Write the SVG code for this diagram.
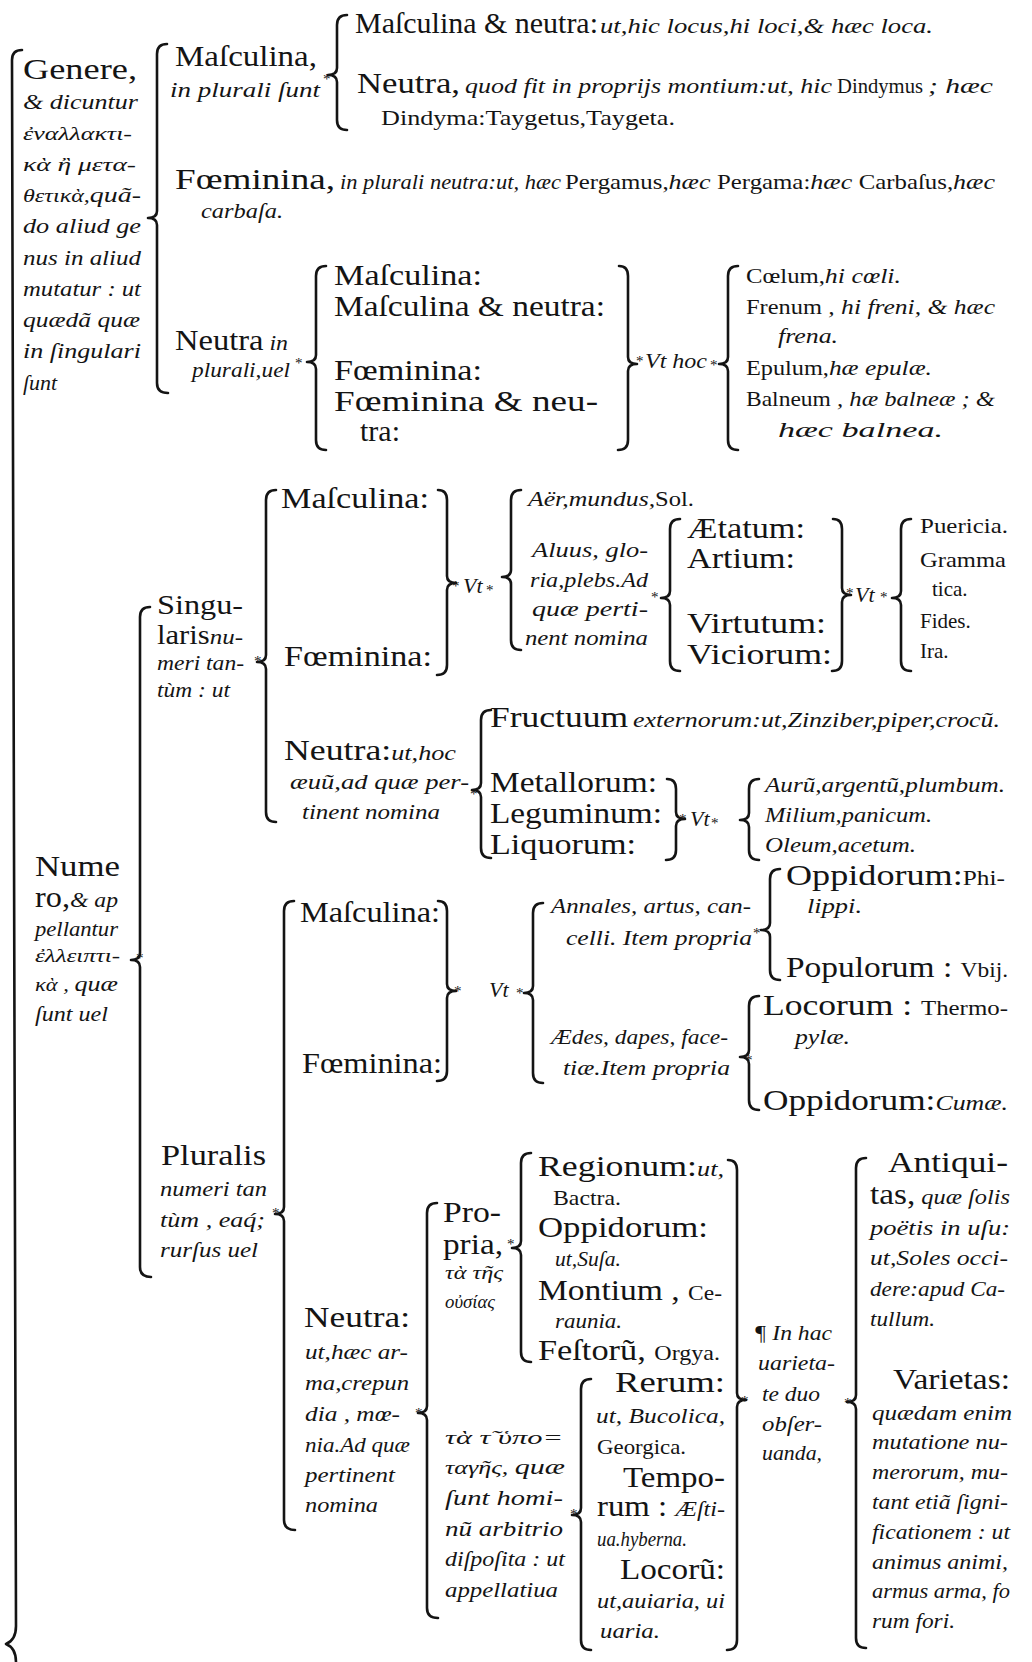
<svg xmlns="http://www.w3.org/2000/svg" width="1032" height="1662" viewBox="0 0 1032 1662">
<style>
text{font-family:"Liberation Serif","DejaVu Serif",serif;fill:#141414}
.r{font-size:30px}
.r27{font-size:27px}
.i{font-size:22px;font-style:italic}
.rs{font-size:21px;font-style:normal}
.g{font-size:19px;font-style:italic}
.st{font-size:15px}
.b{fill:none;stroke:#141414;stroke-width:2.6;stroke-linecap:round;stroke-linejoin:round}
</style>
<rect width="1032" height="1662" fill="#ffffff"/>
<g id="connectors" class="b">
<path d="M22,50 Q12,50 12,60 L16,1626 Q16,1640 6,1644 Q16,1648 16,1662"/>
<path d="M167,44 Q157,44 157,54 L157,211 Q157,218 148,218 Q157,218 157,225 L157,383 Q157,393 168,393"/>
<path d="M347,15 Q337,15 337,25 L337,68 Q337,75 328,75 Q337,75 337,82 L337,120 Q337,130 347,130"/>
<path d="M326,266 Q316,266 316,276 L316,355 Q316,362 307,362 Q316,362 316,369 L316,440 Q316,450 326,450"/>
<path d="M619,266 Q628,266 628,276 L628,357 Q628,364 637,364 Q628,364 628,371 L628,440 Q628,450 618,450"/>
<path d="M738,266 Q728,266 728,276 L728,357 Q728,364 719,364 Q728,364 728,371 L728,440 Q728,450 738,450"/>
<path d="M150,607 Q140,607 140,617 L140,953 Q140,960 131,960 Q140,960 140,967 L140,1267 Q140,1277 151,1277"/>
<path d="M276,490 Q266,490 266,500 L266,655 Q266,662 257,662 Q266,662 266,669 L266,812 Q266,822 276,822"/>
<path d="M438,490 Q447,490 447,500 L447,576 Q447,583 456,583 Q447,583 447,590 L447,665 Q447,675 437,675"/>
<path d="M521,490 Q511,490 511,500 L511,570 Q511,577 502,577 Q511,577 511,584 L511,640 Q511,650 521,650"/>
<path d="M680,519 Q670,519 670,529 L670,591 Q670,598 661,598 Q670,598 670,605 L670,661 Q670,671 680,671"/>
<path d="M833,519 Q842,519 842,529 L842,588 Q842,595 851,595 Q842,595 842,602 L842,661 Q842,671 832,671"/>
<path d="M911,519 Q901,519 901,529 L901,591 Q901,598 892,598 Q901,598 901,605 L901,661 Q901,671 911,671"/>
<path d="M491,710 Q481,710 481,720 L481,783 Q481,790 472,790 Q481,790 481,797 L481,848 Q481,858 491,858"/>
<path d="M667,779 Q676,779 676,789 L676,812 Q676,819 685,819 Q676,819 676,826 L676,850 Q676,860 666,860"/>
<path d="M759,779 Q749,779 749,789 L749,813 Q749,820 740,820 Q749,820 749,827 L749,850 Q749,860 759,860"/>
<path d="M294,901 Q284,901 284,911 L284,1207 Q284,1214 275,1214 Q284,1214 284,1221 L284,1520 Q284,1530 295,1530"/>
<path d="M438,901 Q447,901 447,911 L447,984 Q447,991 456,991 Q447,991 447,998 L447,1071 Q447,1081 437,1081"/>
<path d="M543,903 Q533,903 533,913 L533,986 Q533,993 524,993 Q533,993 533,1000 L533,1073 Q533,1083 543,1083"/>
<path d="M780,869 Q770,869 770,879 L770,923 Q770,930 761,930 Q770,930 770,937 L770,970 Q770,980 780,980"/>
<path d="M759,996 Q749,996 749,1006 L749,1050 Q749,1057 740,1057 Q749,1057 749,1064 L749,1100 Q749,1110 759,1110"/>
<path d="M437,1203 Q427,1203 427,1213 L427,1406 Q427,1413 418,1413 Q427,1413 427,1420 L427,1608 Q427,1618 438,1618"/>
<path d="M531,1153 Q521,1153 521,1163 L521,1241 Q521,1248 512,1248 Q521,1248 521,1255 L521,1352 Q521,1362 531,1362"/>
<path d="M591,1379 Q581,1379 581,1389 L581,1508 Q581,1515 572,1515 Q581,1515 581,1522 L581,1640 Q581,1650 591,1650"/>
<path d="M728,1160 Q737,1160 737,1170 L737,1393 Q737,1400 746,1400 Q737,1400 737,1407 L737,1640 Q737,1650 727,1650"/>
<path d="M866,1158 Q856,1158 856,1168 L856,1395 Q856,1402 847,1402 Q856,1402 856,1409 L856,1638 Q856,1648 866,1648"/>
</g>
<g id="stars" class="st">
<text class="st" x="323" y="84">*</text>
<text class="st" x="295" y="368">*</text>
<text class="st" x="636" y="366">*</text>
<text class="st" x="710" y="370">*</text>
<text class="st" x="136" y="963">*</text>
<text class="st" x="254" y="666">*</text>
<text class="st" x="452" y="591">*</text>
<text class="st" x="486" y="595">*</text>
<text class="st" x="651" y="602">*</text>
<text class="st" x="846" y="598">*</text>
<text class="st" x="880" y="602">*</text>
<text class="st" x="470" y="799">*</text>
<text class="st" x="679" y="824">*</text>
<text class="st" x="711" y="828">*</text>
<text class="st" x="454" y="996">*</text>
<text class="st" x="516" y="998">*</text>
<text class="st" x="753" y="938">*</text>
<text class="st" x="745" y="1065">*</text>
<text class="st" x="272" y="1218">*</text>
<text class="st" x="415" y="1418">*</text>
<text class="st" x="507" y="1249">*</text>
<text class="st" x="741" y="1406">*</text>
<text class="st" x="844" y="1408">*</text>
<text class="st" x="570" y="1519">*</text>
</g>
<g id="genere">
<text class="r" x="23" y="79" textLength="114" lengthAdjust="spacingAndGlyphs">Genere,</text>
<text class="i" x="23" y="109" textLength="115" lengthAdjust="spacingAndGlyphs">&amp; dicuntur</text>
<text class="g" x="23" y="140" textLength="109" lengthAdjust="spacingAndGlyphs">ἐναλλακτι-</text>
<text class="g" x="23" y="171" textLength="113" lengthAdjust="spacingAndGlyphs">κὰ ἢ μετα-</text>
<text class="g" x="23" y="202" textLength="118" lengthAdjust="spacingAndGlyphs">θετικὰ,<tspan class="i">quã-</tspan></text>
<text class="i" x="23" y="233" textLength="118" lengthAdjust="spacingAndGlyphs">do aliud ge</text>
<text class="i" x="23" y="265" textLength="118" lengthAdjust="spacingAndGlyphs">nus in aliud</text>
<text class="i" x="23" y="296" textLength="118" lengthAdjust="spacingAndGlyphs">mutatur : ut</text>
<text class="i" x="23" y="327" textLength="117" lengthAdjust="spacingAndGlyphs">quædã  quæ</text>
<text class="i" x="23" y="358" textLength="118" lengthAdjust="spacingAndGlyphs">in ſingulari</text>
<text class="i" x="23" y="390">ſunt</text>
</g>
<g id="masculina-plural">
<text class="r" x="175" y="66" textLength="142" lengthAdjust="spacingAndGlyphs">Maſculina,</text>
<text class="i" x="170" y="97" textLength="150" lengthAdjust="spacingAndGlyphs">in plurali  ſunt</text>
<text class="r" x="355" y="33" textLength="243" lengthAdjust="spacingAndGlyphs">Maſculina &amp; neutra:</text>
<text class="i" x="600" y="33" textLength="333" lengthAdjust="spacingAndGlyphs">ut,hic locus,hi loci,&amp; hæc loca.</text>
<text class="r" x="357" y="93" textLength="103" lengthAdjust="spacingAndGlyphs">Neutra,</text>
<text class="i" x="465" y="93" textLength="367" lengthAdjust="spacingAndGlyphs">quod fit in proprijs montium:ut, hic</text>
<text class="rs" x="837" y="93" textLength="86" lengthAdjust="spacingAndGlyphs">Dindymus</text>
<text class="i" x="928" y="93" textLength="65" lengthAdjust="spacingAndGlyphs">; hæc</text>
<text class="rs" x="381" y="125" textLength="294" lengthAdjust="spacingAndGlyphs">Dindyma:Taygetus,Taygeta.</text>
</g>
<g id="foeminina-plural">
<text class="r" x="175" y="189" textLength="160" lengthAdjust="spacingAndGlyphs">Fœminina,</text>
<text class="i" x="340" y="189" textLength="221" lengthAdjust="spacingAndGlyphs">in plurali neutra:ut, hæc</text>
<text class="rs" x="565" y="189" textLength="430" lengthAdjust="spacingAndGlyphs">Pergamus,<tspan class="i">hæc </tspan>Pergama:<tspan class="i">hæc </tspan>Carbaſus,<tspan class="i">hæc</tspan></text>
<text class="i" x="201" y="218" textLength="82" lengthAdjust="spacingAndGlyphs">carbaſa.</text>
</g>
<g id="neutra-plural">
<text class="r" x="175" y="350" textLength="113" lengthAdjust="spacingAndGlyphs">Neutra<tspan class="i"> in</tspan></text>
<text class="i" x="192" y="377" textLength="98" lengthAdjust="spacingAndGlyphs">plurali,uel</text>
<text class="r" x="334" y="285" textLength="148" lengthAdjust="spacingAndGlyphs">Maſculina:</text>
<text class="r" x="334" y="316" textLength="271" lengthAdjust="spacingAndGlyphs">Maſculina &amp; neutra:</text>
<text class="r" x="334" y="380" textLength="148" lengthAdjust="spacingAndGlyphs">Fœminina:</text>
<text class="r" x="334" y="411" textLength="264" lengthAdjust="spacingAndGlyphs">Fœminina  &amp;  neu-</text>
<text class="r" x="360" y="441">tra:</text>
<text class="i" x="645" y="368" textLength="62" lengthAdjust="spacingAndGlyphs">Vt hoc</text>
<text class="rs" x="746" y="283" textLength="155" lengthAdjust="spacingAndGlyphs">Cœlum,<tspan class="i">hi cœli.</tspan></text>
<text class="rs" x="746" y="314" textLength="249" lengthAdjust="spacingAndGlyphs">Frenum<tspan class="i"> , hi freni, &amp; hæc</tspan></text>
<text class="i" x="778" y="343" textLength="60" lengthAdjust="spacingAndGlyphs">frena.</text>
<text class="rs" x="746" y="375" textLength="186" lengthAdjust="spacingAndGlyphs">Epulum,<tspan class="i">hæ epulæ.</tspan></text>
<text class="rs" x="746" y="406" textLength="249" lengthAdjust="spacingAndGlyphs">Balneum<tspan class="i"> , hæ balneæ ; &amp;</tspan></text>
<text class="i" x="778" y="437" textLength="165" lengthAdjust="spacingAndGlyphs">hæc balnea.</text>
</g>
<g id="numero">
<text class="r" x="35" y="876" textLength="85" lengthAdjust="spacingAndGlyphs">Nume</text>
<text class="r" x="35" y="907" textLength="83" lengthAdjust="spacingAndGlyphs">ro,<tspan class="i">&amp; ap</tspan></text>
<text class="i" x="35" y="936" textLength="83" lengthAdjust="spacingAndGlyphs">pellantur</text>
<text class="g" x="35" y="962" textLength="85" lengthAdjust="spacingAndGlyphs">ἐλλειπτι-</text>
<text class="g" x="35" y="991" textLength="83" lengthAdjust="spacingAndGlyphs">κὰ , <tspan class="i">quæ</tspan></text>
<text class="i" x="35" y="1021" textLength="73" lengthAdjust="spacingAndGlyphs">ſunt uel</text>
</g>
<g id="singularis">
<text class="r27" x="157" y="614" textLength="86" lengthAdjust="spacingAndGlyphs">Singu-</text>
<text class="r27" x="157" y="644" textLength="86" lengthAdjust="spacingAndGlyphs">laris<tspan class="i">nu-</tspan></text>
<text class="i" x="157" y="670" textLength="87" lengthAdjust="spacingAndGlyphs">meri tan-</text>
<text class="i" x="157" y="697" textLength="73" lengthAdjust="spacingAndGlyphs">tùm : ut</text>
</g>
<g id="singularis-masc-foem">
<text class="r" x="281" y="508" textLength="148" lengthAdjust="spacingAndGlyphs">Maſculina:</text>
<text class="r" x="284" y="666" textLength="148" lengthAdjust="spacingAndGlyphs">Fœminina:</text>
<text class="i" x="463" y="593">Vt</text>
<text class="i" x="528" y="506" textLength="166" lengthAdjust="spacingAndGlyphs">Aër,mundus,<tspan class="rs">Sol.</tspan></text>
<text class="i" x="532" y="557" textLength="116" lengthAdjust="spacingAndGlyphs">Aluus, glo-</text>
<text class="i" x="530" y="587" textLength="118" lengthAdjust="spacingAndGlyphs">ria,plebs.Ad</text>
<text class="i" x="532" y="616" textLength="116" lengthAdjust="spacingAndGlyphs">quæ  perti-</text>
<text class="i" x="525" y="645" textLength="123" lengthAdjust="spacingAndGlyphs">nent nomina</text>
<text class="r" x="687" y="538" textLength="118" lengthAdjust="spacingAndGlyphs">Ætatum:</text>
<text class="r" x="687" y="568" textLength="108" lengthAdjust="spacingAndGlyphs">Artium:</text>
<text class="r" x="687" y="633" textLength="139" lengthAdjust="spacingAndGlyphs">Virtutum:</text>
<text class="r" x="687" y="664" textLength="145" lengthAdjust="spacingAndGlyphs">Viciorum:</text>
<text class="i" x="855" y="602">Vt</text>
<text class="rs" x="920" y="533" textLength="88" lengthAdjust="spacingAndGlyphs">Puericia.</text>
<text class="rs" x="920" y="567" textLength="86" lengthAdjust="spacingAndGlyphs">Gramma</text>
<text class="rs" x="932" y="596">tica.</text>
<text class="rs" x="920" y="628">Fides.</text>
<text class="rs" x="920" y="658">Ira.</text>
</g>
<g id="singularis-neutra">
<text class="r" x="284" y="760" textLength="172" lengthAdjust="spacingAndGlyphs">Neutra:<tspan class="i">ut,hoc</tspan></text>
<text class="i" x="290" y="789" textLength="179" lengthAdjust="spacingAndGlyphs">æuũ,ad quæ per-</text>
<text class="i" x="302" y="819" textLength="138" lengthAdjust="spacingAndGlyphs">tinent nomina</text>
<text class="r" x="490" y="727" textLength="138" lengthAdjust="spacingAndGlyphs">Fructuum</text>
<text class="i" x="633" y="727" textLength="367" lengthAdjust="spacingAndGlyphs">externorum:ut,Zinziber,piper,crocũ.</text>
<text class="r" x="490" y="792" textLength="167" lengthAdjust="spacingAndGlyphs">Metallorum:</text>
<text class="r" x="490" y="823" textLength="172" lengthAdjust="spacingAndGlyphs">Leguminum:</text>
<text class="r" x="490" y="854" textLength="146" lengthAdjust="spacingAndGlyphs">Liquorum:</text>
<text class="i" x="690" y="826">Vt</text>
<text class="i" x="765" y="792" textLength="240" lengthAdjust="spacingAndGlyphs">Aurũ,argentũ,plumbum.</text>
<text class="i" x="765" y="822" textLength="167" lengthAdjust="spacingAndGlyphs">Milium,panicum.</text>
<text class="i" x="765" y="852" textLength="151" lengthAdjust="spacingAndGlyphs">Oleum,acetum.</text>
</g>
<g id="pluralis">
<text class="r" x="161" y="1165" textLength="105" lengthAdjust="spacingAndGlyphs">Pluralis</text>
<text class="i" x="160" y="1196" textLength="107" lengthAdjust="spacingAndGlyphs">numeri tan</text>
<text class="i" x="160" y="1227" textLength="105" lengthAdjust="spacingAndGlyphs">tùm  , eaq́;</text>
<text class="i" x="160" y="1257" textLength="98" lengthAdjust="spacingAndGlyphs">rurſus uel</text>
</g>
<g id="pluralis-masc-foem">
<text class="r" x="300" y="922" textLength="140" lengthAdjust="spacingAndGlyphs">Maſculina:</text>
<text class="r" x="302" y="1073" textLength="140" lengthAdjust="spacingAndGlyphs">Fœminina:</text>
<text class="i" x="489" y="997">Vt</text>
<text class="i" x="551" y="913" textLength="200" lengthAdjust="spacingAndGlyphs">Annales, artus, can-</text>
<text class="i" x="566" y="945" textLength="186" lengthAdjust="spacingAndGlyphs">celli.  Item propria</text>
<text class="i" x="551" y="1044" textLength="177" lengthAdjust="spacingAndGlyphs">Ædes, dapes, face-</text>
<text class="i" x="563" y="1075" textLength="167" lengthAdjust="spacingAndGlyphs">tiæ.Item propria</text>
<text class="r" x="786" y="885" textLength="219" lengthAdjust="spacingAndGlyphs">Oppidorum:<tspan class="rs">Phi-</tspan></text>
<text class="i" x="807" y="913" textLength="55" lengthAdjust="spacingAndGlyphs">lippi.</text>
<text class="r" x="786" y="977" textLength="222" lengthAdjust="spacingAndGlyphs">Populorum : <tspan class="rs">Vbij.</tspan></text>
<text class="r" x="763" y="1015" textLength="245" lengthAdjust="spacingAndGlyphs">Locorum : <tspan class="rs">Thermo-</tspan></text>
<text class="i" x="795" y="1044" textLength="55" lengthAdjust="spacingAndGlyphs">pylæ.</text>
<text class="r" x="763" y="1110" textLength="245" lengthAdjust="spacingAndGlyphs">Oppidorum:<tspan class="i">Cumæ.</tspan></text>
</g>
<g id="pluralis-neutra">
<text class="r" x="304" y="1327" textLength="106" lengthAdjust="spacingAndGlyphs">Neutra:</text>
<text class="i" x="305" y="1359" textLength="103" lengthAdjust="spacingAndGlyphs">ut,hæc ar-</text>
<text class="i" x="305" y="1390" textLength="104" lengthAdjust="spacingAndGlyphs">ma,crepun</text>
<text class="i" x="305" y="1421" textLength="95" lengthAdjust="spacingAndGlyphs">dia , mœ-</text>
<text class="i" x="305" y="1452" textLength="105" lengthAdjust="spacingAndGlyphs">nia.Ad quæ</text>
<text class="i" x="305" y="1482" textLength="90" lengthAdjust="spacingAndGlyphs">pertinent</text>
<text class="i" x="305" y="1512" textLength="73" lengthAdjust="spacingAndGlyphs">nomina</text>
</g>
<g id="propria">
<text class="r" x="443" y="1222" textLength="58" lengthAdjust="spacingAndGlyphs">Pro-</text>
<text class="r" x="443" y="1254" textLength="60" lengthAdjust="spacingAndGlyphs">pria,</text>
<text class="g" x="445" y="1279" textLength="58" lengthAdjust="spacingAndGlyphs">τὰ τῆς</text>
<text class="g" x="445" y="1308" textLength="50" lengthAdjust="spacingAndGlyphs">οὐσίας</text>
<text class="r" x="538" y="1176" textLength="186" lengthAdjust="spacingAndGlyphs">Regionum:<tspan class="i">ut,</tspan></text>
<text class="rs" x="553" y="1205" textLength="68" lengthAdjust="spacingAndGlyphs">Bactra.</text>
<text class="r" x="538" y="1237" textLength="170" lengthAdjust="spacingAndGlyphs">Oppidorum:</text>
<text class="i" x="555" y="1266" textLength="66" lengthAdjust="spacingAndGlyphs">ut,Suſa.</text>
<text class="r" x="538" y="1300" textLength="184" lengthAdjust="spacingAndGlyphs">Montium , <tspan class="rs">Ce-</tspan></text>
<text class="i" x="555" y="1328" textLength="67" lengthAdjust="spacingAndGlyphs">raunia.</text>
<text class="r" x="538" y="1360" textLength="182" lengthAdjust="spacingAndGlyphs">Feſtorũ, <tspan class="rs">Orgya.</tspan></text>
</g>
<g id="appellatiua">
<text class="g" x="445" y="1444" textLength="118" lengthAdjust="spacingAndGlyphs">τὰ τ̃ ὑπο=</text>
<text class="g" x="445" y="1474" textLength="120" lengthAdjust="spacingAndGlyphs">ταγῆς, <tspan class="i">quæ</tspan></text>
<text class="i" x="445" y="1505" textLength="118" lengthAdjust="spacingAndGlyphs">ſunt  homi-</text>
<text class="i" x="445" y="1536" textLength="118" lengthAdjust="spacingAndGlyphs">nũ  arbitrio</text>
<text class="i" x="445" y="1566" textLength="120" lengthAdjust="spacingAndGlyphs">diſpoſita : ut</text>
<text class="i" x="445" y="1597" textLength="113" lengthAdjust="spacingAndGlyphs">appellatiua</text>
<text class="r" x="615" y="1392" textLength="110" lengthAdjust="spacingAndGlyphs">Rerum:</text>
<text class="i" x="596" y="1423" textLength="129" lengthAdjust="spacingAndGlyphs">ut, Bucolica,</text>
<text class="rs" x="597" y="1454" textLength="89" lengthAdjust="spacingAndGlyphs">Georgica.</text>
<text class="r" x="623" y="1487" textLength="102" lengthAdjust="spacingAndGlyphs">Tempo-</text>
<text class="r" x="597" y="1516" textLength="128" lengthAdjust="spacingAndGlyphs">rum : <tspan class="i">Æſti-</tspan></text>
<text class="i" x="597" y="1546" textLength="90" lengthAdjust="spacingAndGlyphs">ua.hyberna.</text>
<text class="r" x="620" y="1579" textLength="105" lengthAdjust="spacingAndGlyphs">Locorũ:</text>
<text class="i" x="597" y="1608" textLength="128" lengthAdjust="spacingAndGlyphs">ut,auiaria, ui</text>
<text class="i" x="600" y="1638" textLength="60" lengthAdjust="spacingAndGlyphs">uaria.</text>
</g>
<g id="varietas-note">
<text class="i" x="754" y="1340" textLength="78" lengthAdjust="spacingAndGlyphs">¶ In hac</text>
<text class="i" x="758" y="1370" textLength="77" lengthAdjust="spacingAndGlyphs">uarieta-</text>
<text class="i" x="762" y="1401" textLength="58" lengthAdjust="spacingAndGlyphs">te duo</text>
<text class="i" x="762" y="1431" textLength="60" lengthAdjust="spacingAndGlyphs">obſer-</text>
<text class="i" x="762" y="1460" textLength="60" lengthAdjust="spacingAndGlyphs">uanda,</text>
</g>
<g id="antiquitas-varietas">
<text class="r" x="888" y="1172" textLength="120" lengthAdjust="spacingAndGlyphs">Antiqui-</text>
<text class="r" x="870" y="1204" textLength="140" lengthAdjust="spacingAndGlyphs">tas,<tspan class="i"> quæ ſolis</tspan></text>
<text class="i" x="870" y="1235" textLength="140" lengthAdjust="spacingAndGlyphs">poëtis in uſu:</text>
<text class="i" x="870" y="1265" textLength="138" lengthAdjust="spacingAndGlyphs">ut,Soles occi-</text>
<text class="i" x="870" y="1296" textLength="135" lengthAdjust="spacingAndGlyphs">dere:apud Ca-</text>
<text class="i" x="870" y="1326" textLength="65" lengthAdjust="spacingAndGlyphs">tullum.</text>
<text class="r" x="893" y="1389" textLength="117" lengthAdjust="spacingAndGlyphs">Varietas:</text>
<text class="i" x="872" y="1420" textLength="140" lengthAdjust="spacingAndGlyphs">quædam  enim</text>
<text class="i" x="872" y="1449" textLength="136" lengthAdjust="spacingAndGlyphs">mutatione nu-</text>
<text class="i" x="872" y="1479" textLength="136" lengthAdjust="spacingAndGlyphs">merorum, mu-</text>
<text class="i" x="872" y="1509" textLength="136" lengthAdjust="spacingAndGlyphs">tant etiã ſigni-</text>
<text class="i" x="872" y="1539" textLength="138" lengthAdjust="spacingAndGlyphs">ficationem : ut</text>
<text class="i" x="872" y="1569" textLength="136" lengthAdjust="spacingAndGlyphs">animus  animi,</text>
<text class="i" x="872" y="1598" textLength="138" lengthAdjust="spacingAndGlyphs">armus arma, fo</text>
<text class="i" x="872" y="1628" textLength="83" lengthAdjust="spacingAndGlyphs">rum fori.</text>
</g>
</svg>
